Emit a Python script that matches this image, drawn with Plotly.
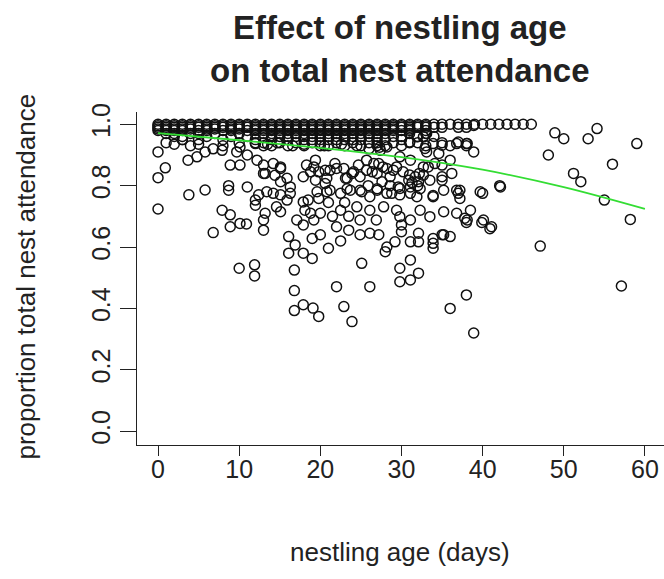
import plotly.graph_objects as go

# ---- data ----
# ages (days) of observations sitting on the near-ceiling rows of proportion
ages_100 = [0,1,2,3,4,5,6,7,8,9,10,11,12,13,14,15,16,17,18,19,20,21,22,23,24,25,26,27,28,29,30,31,32,33,34,35,36,37,38,39,40,41,42,43,44,45,46]
ages_0995 = [0,1,2,3,4,5,6,7,8,9,10,11,12,13,14,15,16,17,18,19,20,21,22,23,24,25,26,27,28,29,30,31,32,33]
ages_099 = [0,1,2,3,4,5,6,7,8,9,10,11,12,13,14,15,16,17,18,19,20,21,22,23,24,25,26,27,28,29,30,31,32,33,34,35,37,38]
ages_0985 = [0,1,2,3,4,6,7,9,10,12,13,14,15,16,17,18,19,20,21,22,23,24,25,26,27,28,29,31]
ages_098 = [0,1,2,3,5,6,8,9,11,12,13,14,15,16,17,18,19,20,21,22,23,24,25,26,27,28,29,30,31,33]
ages_097 = [1,2,4,5,7,10,12,13,14,15,16,17,18,19,20,21,22,23,24,25,26,27,28,31,33]
ages_096 = [2,3,6,9,11,14,15,16,17,18,19,20,21,22,23,24,25,26,27,29,30,32,34]
ages_095 = [3,5,8,12,14,16,18,19,20,21,22,23,24,25,27,28,30]
ages_094 = [10,12,13,15,17,19,20,22,24,26,27,29,31,32,35]
ages_093 = [8,13,14,16,18,20,21,23,25,27,28,30,33,36,38]
row_ages = [ages_100, ages_0995, ages_099, ages_0985, ages_098, ages_097, ages_096, ages_095, ages_094, ages_093]
row_props = [1.00, 0.995, 0.99, 0.985, 0.98, 0.97, 0.96, 0.95, 0.94, 0.93]

# remaining scattered observations (age, proportion)
scatter_young = [
    (0,0.91),(0.9,0.858),(0,0.826),(0,0.724),(3.7,0.883),(4.8,0.894),(5.8,0.91),(6.8,0.92),(7.9,0.915),
    (9.7,0.91),(11,0.90),(12.2,0.883),(8.9,0.867),(10.1,0.867),(13,0.867),(13.2,0.84),(3,0.95),(10.1,0.926),
    (12,0.937),(1,0.94),(2,0.935),(4,0.93),(5,0.935),
    (3.8,0.77),(5.8,0.786),(8.7,0.80),(8.7,0.785),(11,0.796),(12.4,0.77),(7.9,0.72),(8.9,0.705),(12,0.753),
    (12,0.736),(13.2,0.71),(10.1,0.677),(13,0.688),(14.6,0.731),(15.1,0.715),(15.9,0.753),(17.9,0.747),
    (18.8,0.71),(19.2,0.688),(17.1,0.688),(14.2,0.775),(15.1,0.861),
    (6.8,0.647),(8.9,0.666),(10.9,0.675),(13,0.655),(10,0.531),(11.9,0.542),(11.9,0.506),(16.1,0.634),
    (16.9,0.607),(16.1,0.58),(17.9,0.58),(19,0.563),(19,0.628),(16.8,0.525),(16.8,0.458),(16.8,0.393),
    (17.9,0.412),(19.1,0.401),(19.8,0.374),(17.9,0.672),
]
scatter_mid = [
    (14.2,0.872),(13,0.84),(14.4,0.834),(15.1,0.856),(15.1,0.813),(16.3,0.796),(15.9,0.824),(17.9,0.829),
    (19.2,0.861),(19.8,0.845),(19.4,0.818),(20.6,0.807),(21.2,0.85),(21.8,0.872),(22.9,0.856),(23.1,0.824),
    (23.9,0.84),(24.7,0.867),(24.9,0.829),(25.7,0.85),(26.6,0.872),(27,0.84),(25.9,0.80),(27,0.79),
    (24.9,0.785),(23.3,0.79),(22.5,0.775),(20.8,0.78),(19.6,0.78),(16.3,0.775),(15.1,0.77),(13.4,0.78),
    (13.5,0.935),(14.7,0.94),(16.6,0.93),(18,0.935),(20.5,0.93),(22.6,0.935),(24.5,0.93),(26,0.92),(27.3,0.925),
    (18.3,0.867),(19.4,0.883),(18.8,0.845),(20.6,0.85),(22.0,0.856),(20.8,0.824),(23.3,0.824),(24.1,0.845),
    (25.7,0.883),(26.4,0.845),(27.2,0.872),(28.2,0.856),(28.6,0.829),(27.6,0.813),(29.4,0.861),(30.2,0.845),
    (30.9,0.818),(31.7,0.829),(32.1,0.813),(32.7,0.834),(33.3,0.861),(34.1,0.872),(35.0,0.829),(36.0,0.883),
    (36.2,0.84),(36.8,0.785),(35.2,0.785),(33.9,0.764),(31.9,0.764),(31.1,0.796),(29.8,0.791),(28.8,0.775),
    (27.0,0.785),(26.1,0.764),(25.1,0.78),(23.7,0.785),(21.2,0.785),(19.8,0.758),(18.5,0.753),(18.1,0.72),
    (20.0,0.71),(22.5,0.72),(24.5,0.731),(26.1,0.72),(27.8,0.731),(29.4,0.72),(29.8,0.699),(31.1,0.688),
    (32.3,0.72),(33.5,0.699),(35.2,0.715),(36.8,0.71),(38.5,0.72),(38.1,0.688),(37.0,0.942),(38.9,0.91),
    (34.6,0.905),(33.9,0.937),(32.9,0.921),(33.1,0.97),(31.9,0.959),(31.0,0.942),
    (32.7,0.959),(36.8,0.937),(38.1,0.937),(35,0.932),(33.1,0.91),(35,0.867),(27.4,0.915),(28.2,0.926),
    (29.8,0.894),(31.1,0.883),(27.7,0.861),(29,0.85),(31,0.835),(32.2,0.84),(32.7,0.861),(33.5,0.818),
    (35,0.818),(31.3,0.81),(32,0.80),(32.3,0.79),(28.6,0.80),(29.6,0.796),(28.2,0.775),(37,0.775),
    (37.2,0.758),(39.7,0.78),(42.1,0.80),(33.9,0.768),(29.8,0.77),(31.1,0.775),
    (21.5,0.70),(23.5,0.70),(21,0.745),(23,0.745),(20,0.64),(22.5,0.62),(23.5,0.655),
]
scatter_low = [
    (22,0.666),(21,0.596),(25.1,0.547),(22,0.471),(26.1,0.471),(22.9,0.406),(23.9,0.357),(24.9,0.64),
    (26.1,0.645),(27.2,0.64),(28.2,0.60),(28,0.585),(29.2,0.617),(30,0.65),(30,0.672),(31.1,0.617),
    (32.1,0.645),(32.1,0.617),(33.9,0.628),(33.9,0.612),(33.9,0.596),(35.2,0.64),(36,0.634),(31.1,0.558),
    (29.8,0.531),(32.1,0.515),(31.1,0.493),(29.8,0.487),(38,0.444),(36,0.40),(38.9,0.32),(24.9,0.688),
    (26.9,0.688),
]
scatter_old = [
    (47.1,0.603),(40.9,0.66),(39.9,0.68),(35,0.64),(38,0.68),(57.1,0.473),(58.2,0.69),(38.9,0.996),
    (48.9,0.972),(50,0.953),(53,0.953),(54.1,0.986),(59,0.937),(48.1,0.90),(56,0.87),(51.2,0.84),
    (52.1,0.813),(55,0.753),(42.2,0.796),(40,0.775),(37.2,0.785),(38,0.937),(37.8,0.694),(40.1,0.688),
    (41.1,0.666),
]

# fitted trend (green line)
fit_age = [0, 10, 20, 30, 40, 50, 60]
fit_prop = [0.971, 0.948, 0.923, 0.893, 0.852, 0.795, 0.724]

x_ticks = [0, 10, 20, 30, 40, 50, 60]
y_ticks = [0.0, 0.2, 0.4, 0.6, 0.8, 1.0]

# ---- assemble ----
age, prop = [], []
for ages, p in zip(row_ages, row_props):
    for a in ages:
        age.append(a)
        prop.append(p)
for grp in (scatter_young, scatter_mid, scatter_low, scatter_old):
    for a, p in grp:
        age.append(a)
        prop.append(p)

FONT = "Liberation Sans, Arial, sans-serif"
INK = "#222222"

fig = go.Figure()
fig.add_trace(go.Scatter(
    x=age, y=prop, mode="markers",
    marker=dict(symbol="circle-open", size=10, color="#111111", line=dict(width=1.5, color="#111111")),
    showlegend=False, hoverinfo="x+y",
))
fig.add_trace(go.Scatter(
    x=fit_age, y=fit_prop, mode="lines",
    line=dict(color="#33dd33", width=1.8, shape="spline"),
    showlegend=False,
))

fig.update_layout(
    width=664, height=579,
    margin=dict(l=137, r=0, t=112, b=134),
    paper_bgcolor="white", plot_bgcolor="white",
    font=dict(family=FONT, color=INK),
    xaxis=dict(
        range=[-2.59, 62.35], tickvals=x_ticks, ticktext=[str(v) for v in x_ticks],
        showgrid=False, zeroline=False, showline=True, linecolor=INK, linewidth=1.3,
        ticks="outside", ticklen=10, tickwidth=1.3, tickcolor=INK, ticklabelstandoff=-8,
        tickfont=dict(size=25, family=FONT, color=INK),
    ),
    yaxis=dict(
        range=[-0.045, 1.04], tickvals=y_ticks, ticktext=["0.0", "0.2", "0.4", "0.6", "0.8", "1.0"],
        showgrid=False, zeroline=False, showline=True, linecolor=INK, linewidth=1.3,
        ticks="outside", ticklen=16, tickwidth=1.3, tickcolor=INK, tickangle=-90,
        tickfont=dict(size=25, family=FONT, color=INK),
    ),
    annotations=[
        dict(text="<b>Effect of nestling age<br>on total nest attendance</b>", xref="paper", yref="paper",
             x=0.499, y=1.19, xanchor="center", yanchor="middle", showarrow=False,
             font=dict(size=33, family=FONT, color=INK)),
        dict(text="nestling age (days)", xref="paper", yref="paper",
             x=0.499, y=-0.32, xanchor="center", yanchor="middle", showarrow=False,
             font=dict(size=26, family=FONT, color=INK)),
        dict(text="proportion total nest attendance", xref="paper", yref="paper",
             x=-0.21, y=0.507, xanchor="center", yanchor="middle", showarrow=False, textangle=-90,
             font=dict(size=26, family=FONT, color=INK)),
    ],
)

fig.write_html("out.html")
